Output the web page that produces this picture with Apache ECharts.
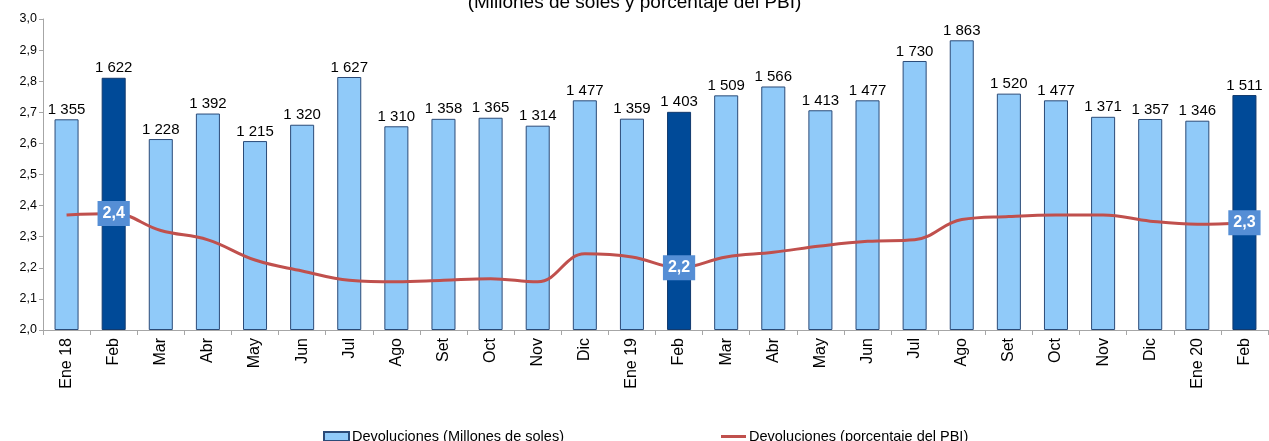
<!DOCTYPE html>
<html>
<head>
<meta charset="utf-8">
<script src="https://cdn.jsdelivr.net/npm/echarts@6/dist/echarts.min.js"></script>
<style>
html,body{margin:0;padding:0;background:#fff;}
#c{width:1269px;height:441px;}
</style>
</head>
<body>
<div id="c"></div>
<script>
var categories = ['Ene 18','Feb','Mar','Abr','May','Jun','Jul','Ago','Set','Oct','Nov','Dic',
  'Ene 19','Feb','Mar','Abr','May','Jun','Jul','Ago','Set','Oct','Nov','Dic','Ene 20','Feb'];
var devolucionesMillones = [1355,1622,1228,1392,1215,1320,1627,1310,1358,1365,1314,1477,
  1359,1403,1509,1566,1413,1477,1730,1863,1520,1477,1371,1357,1346,1511];
var devolucionesPBI = [2.37,2.375,2.32,2.29,2.225,2.19,2.16,2.155,2.16,2.165,2.155,2.245,
  2.235,2.20,2.235,2.25,2.27,2.285,2.29,2.355,2.365,2.37,2.37,2.35,2.34,2.345];
var highlighted = [1,13,25];
var leftTicks = {min:2.0, max:3.0, interval:0.1};
var barAxis = {min:0, max:2000};

var FONT = '"Liberation Sans", Arial, sans-serif';
function fmtThousands(v){ return String(v).replace(/\B(?=(\d{3})+(?!\d))/g,' '); }
function fmtComma(v){ return Number(v).toFixed(1).replace('.',','); }

var barData = devolucionesMillones.map(function(v,i){
  if (highlighted.indexOf(i) >= 0) {
    return {value:v, itemStyle:{color:'#004A98', borderColor:'#123a6e'}};
  }
  return v;
});
var lineData = devolucionesPBI.map(function(v,i){
  if (highlighted.indexOf(i) >= 0) {
    return {value:v, label:{show:true}};
  }
  return v;
});

var chart = echarts.init(document.getElementById('c'), null, {renderer:'canvas'});
chart.setOption({
  animation:false,
  textStyle:{fontFamily:FONT},
  title:{
    text:'(Millones de soles y porcentaje del PBI)',
    left:'center', top:-12,
    textStyle:{fontFamily:FONT, fontSize:19, fontWeight:'normal', color:'#000'}
  },
  legend:[
    {
      data:[{name:'Devoluciones (Millones de soles)', icon:'rect'}],
      left:318, top:424, itemWidth:25, itemHeight:9, itemGap:0,
      textStyle:{fontFamily:FONT, fontSize:14.5, color:'#000', padding:[0,0,0,-2]}
    },
    {
      data:[{name:'Devoluciones (porcentaje del PBI)', icon:'rect'}],
      left:716, top:424, itemWidth:25, itemHeight:3, itemGap:0,
      itemStyle:{color:'#C0504D', borderWidth:0},
      textStyle:{fontFamily:FONT, fontSize:14.5, color:'#000', padding:[0,0,0,-2]}
    }
  ],
  grid:{left:43, right:1, top:19, bottom:111, containLabel:false},
  xAxis:{
    type:'category', data:categories, boundaryGap:true,
    axisLine:{lineStyle:{color:'#a6a6a6', width:1}},
    axisTick:{show:true, length:5, lineStyle:{color:'#a6a6a6'}},
    axisLabel:{rotate:90, fontFamily:FONT, fontSize:16, color:'#000', margin:8, interval:0}
  },
  yAxis:[
    {
      type:'value', min:leftTicks.min, max:leftTicks.max, interval:leftTicks.interval,
      axisLine:{show:true, lineStyle:{color:'#a6a6a6'}},
      axisTick:{show:true, length:4, lineStyle:{color:'#a6a6a6'}},
      splitLine:{show:false},
      axisLabel:{fontFamily:FONT, fontSize:12.5, color:'#000', margin:6, formatter:fmtComma}
    },
    {
      type:'value', min:barAxis.min, max:barAxis.max, show:false, splitLine:{show:false}
    }
  ],
  series:[
    {
      name:'Devoluciones (Millones de soles)', type:'bar', yAxisIndex:1,
      data:barData, barWidth:'51%',
      itemStyle:{color:'#90CAF9', borderColor:'#2b4b78', borderWidth:1},
      label:{show:true, position:'top', distance:2, fontFamily:FONT, fontSize:15, color:'#000',
        formatter:function(p){ return fmtThousands(p.value); }},
      z:2
    },
    {
      name:'Devoluciones (porcentaje del PBI)', type:'line', yAxisIndex:0,
      data:lineData, smooth:0.4, symbol:'circle', symbolSize:0, showSymbol:true,
      lineStyle:{color:'#C0504D', width:3},
      itemStyle:{color:'#C0504D'},
      label:{show:false, position:'inside', backgroundColor:'#558ED5', color:'#fff',
        fontFamily:FONT, fontSize:16, fontWeight:'bold', padding:[4,5,4,5], lineHeight:17,
        formatter:function(p){ return fmtComma(p.value); }},
      z:3
    }
  ]
});
</script>
</body>
</html>
